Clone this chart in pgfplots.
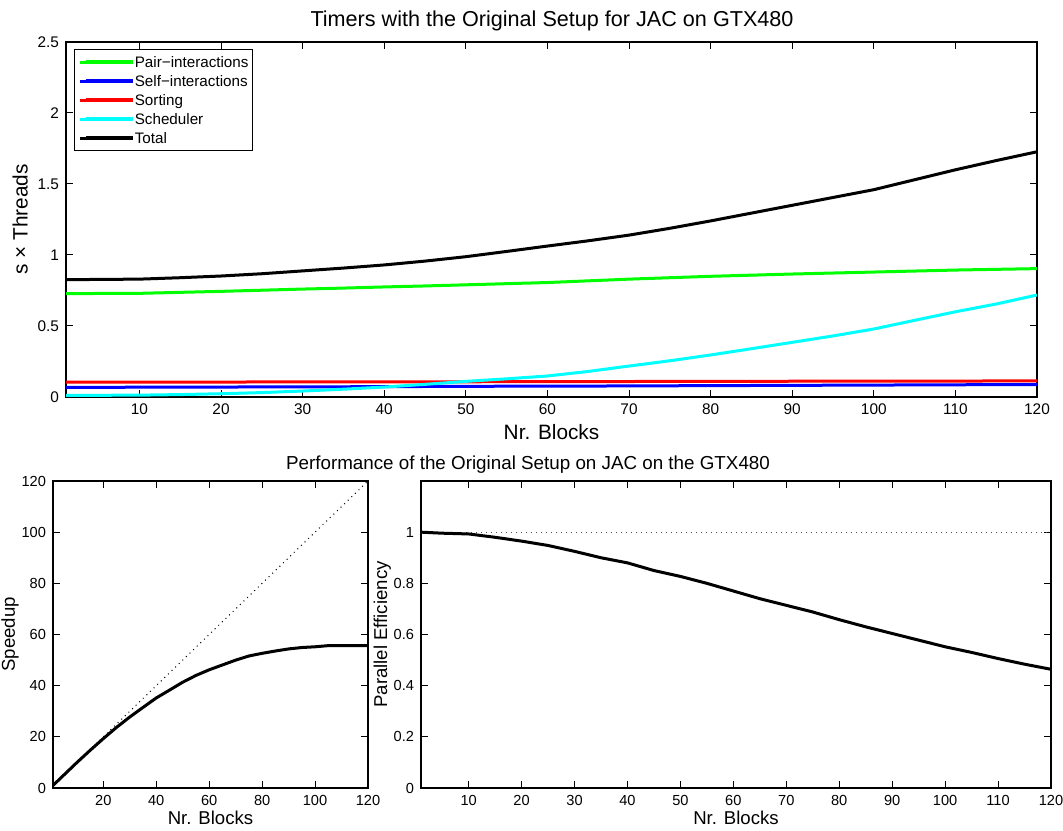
\documentclass[border=0pt]{standalone}
\usepackage{pgfplots}
\pgfplotsset{compat=1.18}
\usepackage{pgfplotstable}
\usepackage{fontspec}
\setmainfont{Liberation Sans}

\definecolor{mgreen}{rgb}{0,1,0}
\definecolor{mblue}{rgb}{0,0,1}
\definecolor{mred}{rgb}{1,0,0}
\definecolor{mcyan}{rgb}{0,1,1}

\pgfplotstableread{
x total pair sched sort self
1   0.826 0.728 0.012 0.104 0.068
5   0.828 0.729 0.012 0.104 0.068
10  0.830 0.730 0.013 0.105 0.069
15  0.840 0.737 0.017 0.105 0.070
20  0.852 0.744 0.023 0.105 0.070
25  0.868 0.752 0.031 0.106 0.071
30  0.888 0.760 0.042 0.106 0.072
35  0.908 0.767 0.055 0.106 0.072
40  0.930 0.775 0.070 0.107 0.073
45  0.957 0.782 0.089 0.107 0.074
50  0.988 0.790 0.110 0.107 0.075
55  1.025 0.798 0.128 0.108 0.076
60  1.063 0.806 0.148 0.108 0.077
65  1.100 0.818 0.180 0.109 0.077
70  1.140 0.830 0.218 0.109 0.078
75  1.188 0.840 0.255 0.110 0.079
80  1.240 0.850 0.296 0.110 0.080
85  1.295 0.858 0.340 0.110 0.081
90  1.350 0.866 0.385 0.111 0.082
95  1.405 0.873 0.430 0.111 0.083
100 1.460 0.880 0.479 0.112 0.084
105 1.530 0.887 0.540 0.112 0.085
110 1.600 0.894 0.600 0.112 0.086
115 1.665 0.899 0.655 0.113 0.087
120 1.727 0.904 0.718 0.113 0.088
}\timers

\pgfplotstableread{
x eff speed
1   1.000 1.00
5   0.996 4.98
10  0.993 9.93
15  0.980 14.70
20  0.965 19.30
25  0.948 23.70
30  0.925 27.75
35  0.900 31.50
40  0.880 35.20
45  0.850 38.25
50  0.827 41.35
55  0.800 44.00
60  0.770 46.20
65  0.740 48.10
70  0.714 49.98
75  0.688 51.60
80  0.658 52.64
85  0.630 53.55
90  0.604 54.36
95  0.578 54.91
100 0.552 55.20
105 0.530 55.65
110 0.506 55.66
115 0.484 55.66
120 0.464 55.68
}\perf

\pgfplotstableread{
x ideal one
1 1 1
120 120 1
}\ideal

\begin{document}
\begin{tikzpicture}
\useasboundingbox (0,0) rectangle (531.5pt,415pt);
\pgfplotsset{
  every axis/.append style={
    scale only axis,
    axis line style={line width=0.6pt},
    tick pos=both, tick align=inside,
    major tick length=3.5pt,
    tick style={line width=0.5pt, black},
    /pgf/number format/assume math mode=true,
    tick label style={font=\fontsize{7.7pt}{8pt}\selectfont},
    label style={font=\fontsize{10.4pt}{11pt}\selectfont},
    /pgf/number format/.cd, fixed, 1000 sep={},
  },
}
% top axis
\begin{axis}[
  at={(33pt,216.5pt)}, anchor=south west,
  width=485.5pt, height=177.5pt,
  xmin=1, xmax=120, ymin=0, ymax=2.5,
  xtick={10,20,...,120}, ytick={0,0.5,1,1.5,2,2.5},
  yticklabels={0,0.5,1,1.5,2,2.5},
  xlabel={Nr. Blocks}, ylabel={s × Threads},
  xlabel style={yshift=2pt},
  ylabel style={yshift=-2pt},
  legend style={at={(0.0082,0.980)}, anchor=north west, draw=black, line width=0.6pt,
    font=\fontsize{7.6pt}{8pt}\selectfont, inner xsep=2pt, inner ysep=1.5pt, row sep=0pt,
    nodes={inner sep=0pt, text height=7.2pt, text depth=2.3pt},
    /tikz/every even column/.append style={column sep=3pt}},
  legend cell align=left,
  legend image code/.code={\path (0pt,0pt) -- (26.5pt,0pt);
    \draw[#1, line width=1.8pt] (3pt,0pt) -- (26.5pt,0pt);},
]
\addplot[line width=1.5pt, mgreen] table[x=x,y=pair]{\timers};
\addlegendentry{Pair−interactions}
\addplot[line width=1.5pt, mblue] table[x=x,y=self]{\timers};
\addlegendentry{Self−interactions}
\addplot[line width=1.5pt, mred] table[x=x,y=sort]{\timers};
\addlegendentry{Sorting}
\addplot[line width=1.5pt, mcyan] table[x=x,y=sched]{\timers};
\addlegendentry{Scheduler}
\addplot[line width=1.5pt, black] table[x=x,y=total]{\timers};
\addlegendentry{Total}
\end{axis}
% bottom left
\begin{axis}[
  at={(26.5pt,21pt)}, anchor=south west,
  width=157.5pt, height=153.5pt,
  xmin=1, xmax=120, ymin=0, ymax=120,
  xtick={20,40,...,120}, ytick={0,20,...,120},
  xlabel={Nr. Blocks}, ylabel={Speedup},
  xlabel style={yshift=4pt},
  ylabel style={yshift=-5.5pt},
  tick label style={font=\fontsize{7.3pt}{8pt}\selectfont},
  label style={font=\fontsize{9.3pt}{10pt}\selectfont},
]
\addplot[line width=0.5pt, black, dotted] table[x=x,y=ideal]{\ideal};
\addplot[line width=1.5pt, black] table[x=x,y=speed]{\perf};
\end{axis}
% bottom right
\begin{axis}[
  at={(210.5pt,21pt)}, anchor=south west,
  width=315pt, height=153.5pt,
  xmin=1, xmax=120, ymin=0, ymax=1.2,
  xtick={10,20,...,120}, ytick={0,0.2,...,1},
  yticklabels={0,0.2,0.4,0.6,0.8,1},
  xlabel={Nr. Blocks}, ylabel={Parallel Efficiency},
  xlabel style={yshift=4pt},
  ylabel style={yshift=-5.5pt},
  tick label style={font=\fontsize{7.3pt}{8pt}\selectfont},
  label style={font=\fontsize{9.3pt}{10pt}\selectfont},
]
\addplot[line width=0.5pt, black!70, dotted] table[x=x,y=one]{\ideal};
\addplot[line width=1.5pt, black] table[x=x,y=eff]{\perf};
\end{axis}
\node[font=\fontsize{10.8pt}{11pt}\selectfont] at (276pt,404.5pt) {Timers with the Original Setup for JAC on GTX480};
\node[font=\fontsize{9.4pt}{10pt}\selectfont] at (264pt,182.5pt) {Performance of the Original Setup on JAC on the GTX480};
\end{tikzpicture}
\end{document}
